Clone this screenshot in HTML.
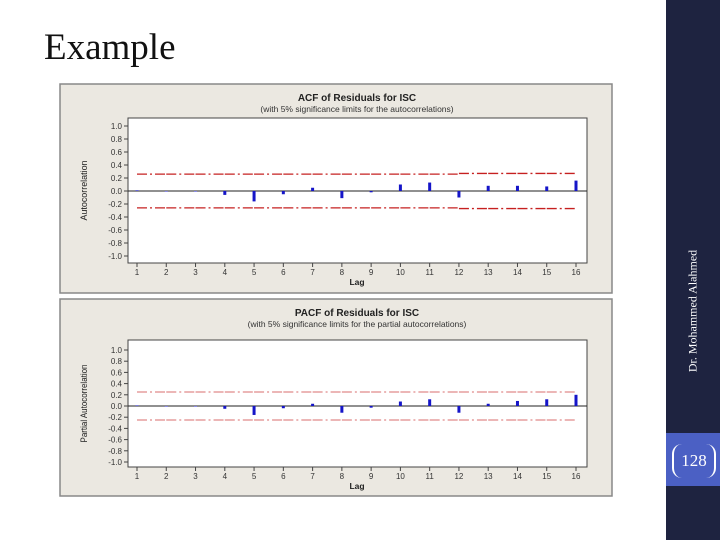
<!DOCTYPE html>
<html><head><meta charset="utf-8"><style>
body{margin:0;width:720px;height:540px;overflow:hidden;background:#fff;font-family:"Liberation Sans",sans-serif;}
#slide{position:absolute;left:0;top:0;width:666px;height:540px;background:#fff;}
#title{position:absolute;left:44px;top:26px;font-family:"Liberation Serif",serif;font-size:37px;color:#111;}
#sidebar{position:absolute;left:666px;top:0;width:54px;height:540px;background:#1e2340;}
#band{position:absolute;left:666px;top:433px;width:54px;height:53px;background:#4b60c4;}
#author{position:absolute;left:693px;top:311px;transform:translate(-50%,-50%) rotate(-90deg);white-space:nowrap;font-family:"Liberation Serif",serif;font-size:12px;color:#fff;}
#pnum{position:absolute;left:672px;top:444px;width:44px;height:34px;border-left:2px solid #fff;border-right:2px solid #fff;border-radius:10px;box-sizing:border-box;color:#fff;font-family:"Liberation Serif",serif;font-size:17px;text-align:center;line-height:34px;}
</style></head><body>
<div id="slide"></div>
<div id="title">Example</div>
<div id="sidebar"></div>
<div id="band"></div>
<div id="author">Dr. Mohammed Alahmed</div>
<div id="pnum">128</div>
<svg id="charts" width="720" height="540" style="position:absolute;left:0;top:0"></svg>
<script>
const lags=[1,2,3,4,5,6,7,8,9,10,11,12,13,14,15,16];
const acfValues=[0.01,0,0,-0.06,-0.16,-0.05,0.05,-0.11,-0.02,0.10,0.13,-0.10,0.08,0.08,0.07,0.16];
const acfLimits=[0.26,0.26,0.26,0.26,0.26,0.26,0.26,0.26,0.26,0.26,0.26,0.27,0.27,0.27,0.27,0.27];
const pacfValues=[0.01,0,0,-0.05,-0.16,-0.04,0.04,-0.12,-0.03,0.08,0.12,-0.12,0.04,0.09,0.12,0.20];
const pacfLimit=0.25;
const yTicks=[1.0,0.8,0.6,0.4,0.2,0.0,-0.2,-0.4,-0.6,-0.8,-1.0];
const NS='http://www.w3.org/2000/svg';
const svg=document.getElementById('charts');
function mk(tag,attrs,parent){const e=document.createElementNS(NS,tag);for(const k in attrs)e.setAttribute(k,attrs[k]);(parent||svg).appendChild(e);return e;}
function chart(cfg){
  const g=mk('g',{});
  
  
  const p=mk('rect',{x:cfg.px,y:cfg.py,width:cfg.pw,height:cfg.ph,fill:'#ebe8e1',stroke:'#888','stroke-width':1.5},g);
  
  
  const x=v=>137+(v-1)*(576-137)/15;
  const y=v=>cfg.y0-v*cfg.ys;
  const pl=mk('rect',{x:128,y:cfg.top,width:459,height:cfg.bot-cfg.top,fill:'#fff',stroke:'#444','stroke-width':1},g);
  
  
  let t=mk('text',{x:357,y:cfg.py+17,'text-anchor':'middle','font-size':10,'font-weight':'bold',fill:'#222'},g);
  t.textContent=cfg.title;
  
  
  t=mk('text',{x:357,y:cfg.py+28,'text-anchor':'middle','font-size':8.5,fill:'#333'},g);
  t.textContent=cfg.sub;
  
  
  yTicks.forEach(v=>{
    mk('line',{x1:124,x2:128,y1:y(v),y2:y(v),stroke:'#444'},g);
    const l=mk('text',{x:122,y:y(v)+3,'text-anchor':'end','font-size':8,fill:'#333'},g);
    l.textContent=v.toFixed(1);
    
    
  });
  lags.forEach(v=>{
    mk('line',{x1:x(v),x2:x(v),y1:cfg.bot,y2:cfg.bot+4,stroke:'#444'},g);
    const l=mk('text',{x:x(v),y:cfg.bot+12,'text-anchor':'middle','font-size':8,fill:'#333'},g);
    l.textContent=v;
    
    
  });
  t=mk('text',{x:357,y:cfg.bot+22,'text-anchor':'middle','font-size':8.5,'font-weight':'bold',fill:'#222'},g);
  t.textContent='Lag';
  
  
  const yc=(cfg.top+cfg.bot)/2;
  t=mk('text',{x:87,y:yc,'text-anchor':'middle','font-size':9,fill:'#222',transform:`rotate(-90 87 ${yc})`,'textLength':cfg.ylen,'lengthAdjust':'spacingAndGlyphs'},g);
  t.textContent=cfg.ylabel;
  
  
  for(let i=0;i<lags.length-1;i++){
    const lim=cfg.limits[i];
    [lim,-lim].forEach(v=>{
      const ln=mk('line',{x1:x(lags[i]),x2:x(lags[i+1]),y1:y(v),y2:y(v),stroke:cfg.limColor,'stroke-width':1.3,'stroke-dasharray':'10,3,2,3'},g);
      
      
    });
  }
  mk('line',{x1:128,x2:587,y1:y(0),y2:y(0),stroke:'#222','stroke-width':1},g);
  cfg.values.forEach((v,i)=>{
    const b=mk('rect',{x:x(lags[i])-1.5,y:Math.min(y(v),y(0)),width:3,height:Math.max(Math.abs(y(v)-y(0)),0.5),fill:'#1515c8'},g);
    
    
  });
}
chart({name:'acf-chart',px:60,py:84,pw:552,ph:209,top:118,bot:263,y0:191,ys:65,title:'ACF of Residuals for ISC',sub:'(with 5% significance limits for the autocorrelations)',ylabel:'Autocorrelation',ylen:60,values:acfValues,limits:acfLimits,limColor:'#c62020'});
chart({name:'pacf-chart',px:60,py:299,pw:552,ph:197,top:340,bot:467,y0:406,ys:56,title:'PACF of Residuals for ISC',sub:'(with 5% significance limits for the partial autocorrelations)',ylabel:'Partial Autocorrelation',ylen:78,values:pacfValues,limits:lags.map(()=>pacfLimit),limColor:'#e08a8a'});
</script>
</body></html>
